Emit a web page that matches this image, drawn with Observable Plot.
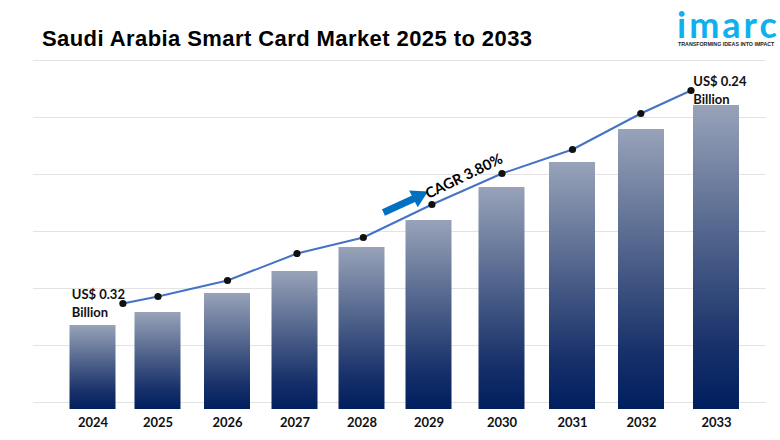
<!DOCTYPE html>
<html><head><meta charset="utf-8">
<script src="https://cdn.jsdelivr.net/npm/d3@7"></script>
<script src="https://cdn.jsdelivr.net/npm/@observablehq/plot@0.6"></script>
<style>
html,body{margin:0;padding:0;background:#fff;width:780px;height:440px;overflow:hidden}
#wrap{position:relative;width:780px;height:440px}
#title{position:absolute;left:42px;top:26px;font:bold 22px "Liberation Sans",Arial,sans-serif;color:#000;letter-spacing:.42px;white-space:nowrap}
#logo{position:absolute;left:677px;top:11px;height:26px;font:700 36px/26px Lato,sans-serif;letter-spacing:3px;color:#0DB1EE;white-space:nowrap}
#tag{position:absolute;left:678px;top:41px;font:bold 5.3px/6px "Liberation Sans",Arial,sans-serif;color:#222;white-space:nowrap}
#chart{position:absolute;left:0;top:58px}
svg{display:block}
</style></head><body>
<div id="wrap">
<div id="title">Saudi Arabia Smart Card Market 2025 to 2033</div>
<div id="logo">imarc</div>
<div id="tag">TRANSFORMING IDEAS INTO IMPACT</div>
<div id="chart"></div>
</div>
<script>
const years = [2024,2025,2026,2027,2028,2029,2030,2031,2032,2033];
const barValues = [84,97,116,138,162,189,222,247,280,304];
const lineYears = [2024.46,2025,2026,2027.03,2028.02,2029.04,2030,2031,2031.99,2032.66];
const lineValues = [106,113,129,156,172,205,236,260,296,319];
const gridValues = [7,64,121,178,235,292,349];
const startLabel = "US$ 0.32\nBillion";
const endLabel = "US$ 0.24\nBillion";
const cagrLabel = "CAGR 3.80%";

const table = years.map((year,i)=>({year,value:barValues[i]}));
const line = lineYears.map((year,i)=>({year,value:lineValues[i]}));
const gradient = () => {
  const s = d3.create("svg:defs");
  const g = s.append("linearGradient").attr("id","barFill").attr("x1",0).attr("y1",0).attr("x2",0).attr("y2",1);
  g.append("stop").attr("offset","0%").attr("stop-color","#98A3B9");
  g.append("stop").attr("offset","50%").attr("stop-color","#465A85");
  g.append("stop").attr("offset","80%").attr("stop-color","#17306A");
  g.append("stop").attr("offset","100%").attr("stop-color","#001F5E");
  return s.node();
};
const chart = Plot.plot({
  width:780,height:382,marginTop:2,marginBottom:31,marginLeft:33,marginRight:14,
  style:{background:"transparent",overflow:"visible"},
  x:{type:"linear",domain:[2023,...years,2034],range:[24,92.5,157.5,227,294.5,361.5,428.5,501.5,572,641,716,786],label:null,axis:null},
  y:{domain:[0,349],axis:null,label:null},
  marks:[
    gradient,
    Plot.ruleY(gridValues,{stroke:"#E3E3E3",strokeWidth:1}),
    Plot.rect(table,{x1:"year",x2:"year",y1:0,y2:"value",insetLeft:-23,insetRight:-23,fill:"url(#barFill)",style:"filter:drop-shadow(1px 1px 1px rgba(0,0,0,.3))"}),
    Plot.line(line,{x:"year",y:"value",stroke:"#4472C4",strokeWidth:2}),
    Plot.dot(line,{x:"year",y:"value",r:3.6,fill:"#111",stroke:"none"}),
    Plot.link([{x1:2028.32,y1:197,x2:2028.81,y2:212}],{x1:"x1",y1:"y1",x2:"x2",y2:"y2",stroke:"#0070C0",strokeWidth:7}),
    Plot.dot([{x:2028.84,y:213}],{x:"x",y:"y",symbol:"triangle",r:7,rotate:63,fill:"#0070C0",stroke:"none"}),
    Plot.text([cagrLabel],{x:()=>2029.48,y:()=>233,text:d=>d,rotate:-26,fontSize:14.6,fontWeight:700,fontFamily:"Lato",fill:"#000"}),
    Plot.text([startLabel],{x:()=>2023.69,y:()=>107,text:d=>d,textAnchor:"start",lineHeight:1.35,fontSize:13,fontWeight:700,fontFamily:"Lato",fill:"#111"}),
    Plot.text([endLabel],{x:()=>2032.69,y:()=>320,text:d=>d,textAnchor:"start",lineHeight:1.35,fontSize:13,fontWeight:700,fontFamily:"Lato",fill:"#111"}),
    Plot.axisX(years,{anchor:"bottom",tickSize:0,tickPadding:8,tickFormat:"d",fontSize:13,fontWeight:700,fontFamily:"Lato",fill:"#111",label:null})
  ]
});
document.getElementById("chart").append(chart);
</script>
</body></html>
